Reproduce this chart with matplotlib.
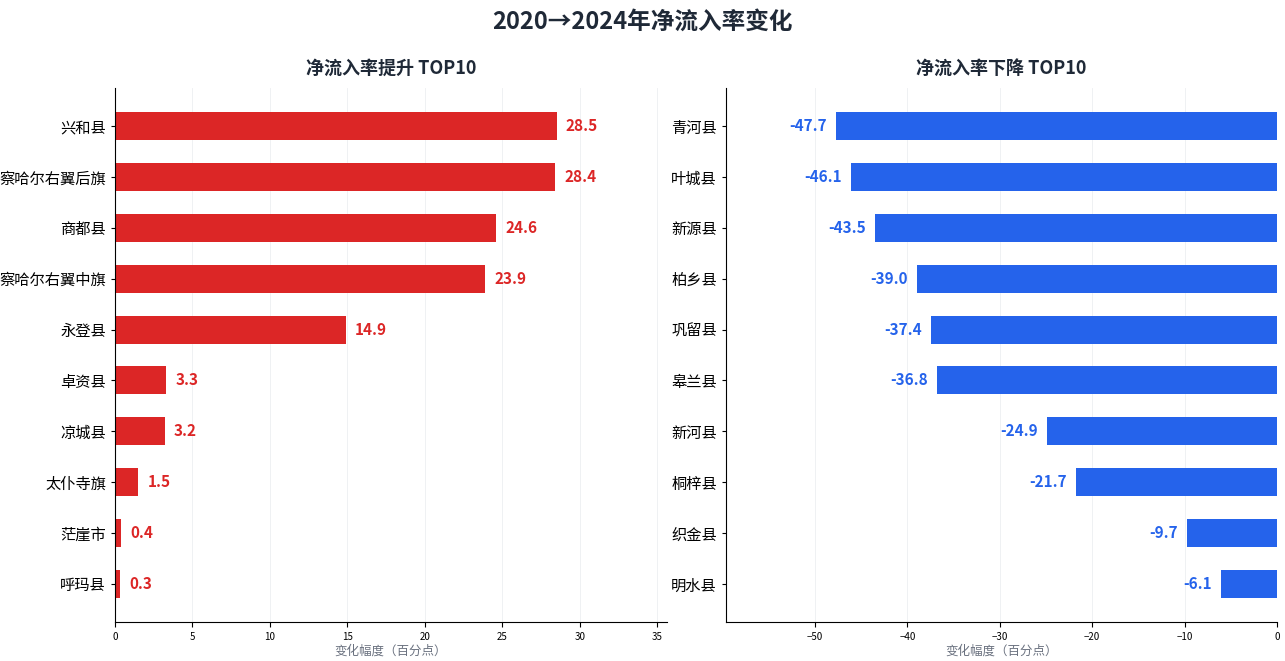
import matplotlib
matplotlib.use("Agg")
import matplotlib.pyplot as plt

plt.rcParams["font.family"] = ["Noto Sans CJK SC", "DejaVu Sans"]

up_names = ["兴和县", "察哈尔右翼后旗", "商都县", "察哈尔右翼中旗", "永登县",
            "卓资县", "凉城县", "太仆寺旗", "茫崖市", "呼玛县"]
up_vals = [28.5, 28.4, 24.6, 23.9, 14.9, 3.3, 3.2, 1.5, 0.4, 0.3]
down_names = ["青河县", "叶城县", "新源县", "柏乡县", "巩留县",
              "皋兰县", "新河县", "桐梓县", "织金县", "明水县"]
down_vals = [-47.7, -46.1, -43.5, -39.0, -37.4, -36.8, -24.9, -21.7, -9.7, -6.1]

RED = "#dc2626"
BLUE = "#2563eb"
DARK = "#1f2937"

fig = plt.figure(figsize=(12.85, 6.61), dpi=100)
fig.suptitle("2020→2024年净流入率变化", fontsize=17, fontweight="bold", color=DARK, y=0.985)
ax1 = fig.add_axes([0.0895, 0.059, 0.4296, 0.808])
ax2 = fig.add_axes([0.565, 0.059, 0.4288, 0.808])

for ax, names, vals, color, title in [
    (ax1, up_names, up_vals, RED, "净流入率提升 TOP10"),
    (ax2, down_names, down_vals, BLUE, "净流入率下降 TOP10"),
]:
    y = list(range(len(names)))
    ax.barh(y, vals, height=0.55, color=color, zorder=2)
    ax.set_yticks(y)
    ax.set_yticklabels(names, fontsize=11)
    ax.invert_yaxis()
    ax.set_title(title, fontsize=13, fontweight="bold", color=DARK, pad=10)
    ax.set_xlabel("变化幅度（百分点）", fontsize=9, color="#6b7280", labelpad=2)
    ax.tick_params(axis="x", labelsize=7)
    ax.tick_params(axis="y", length=3)
    ax.grid(axis="x", color="#e5e7eb", alpha=0.6, linewidth=0.7, zorder=0)
    ax.spines["top"].set_visible(False)
    ax.spines["right"].set_visible(False)
    ax.set_ylim(len(names) - 0.25, -0.75)

ax1.set_xlim(0, max(up_vals) * 1.25)
ax2.set_xlim(min(down_vals) * 1.25, 0)
ax1.set_xticks(range(0, 40, 5))
ax2.set_xticks(range(-50, 1, 10))

for i, v in enumerate(up_vals):
    ax1.text(v + 0.6, i, f"{v:.1f}", va="center", ha="left", fontsize=11,
             fontweight="bold", color=RED)
for i, v in enumerate(down_vals):
    ax2.text(v - 1.0, i, f"{v:.1f}", va="center", ha="right", fontsize=11,
             fontweight="bold", color=BLUE)

fig.savefig("out.png", dpi=100)
